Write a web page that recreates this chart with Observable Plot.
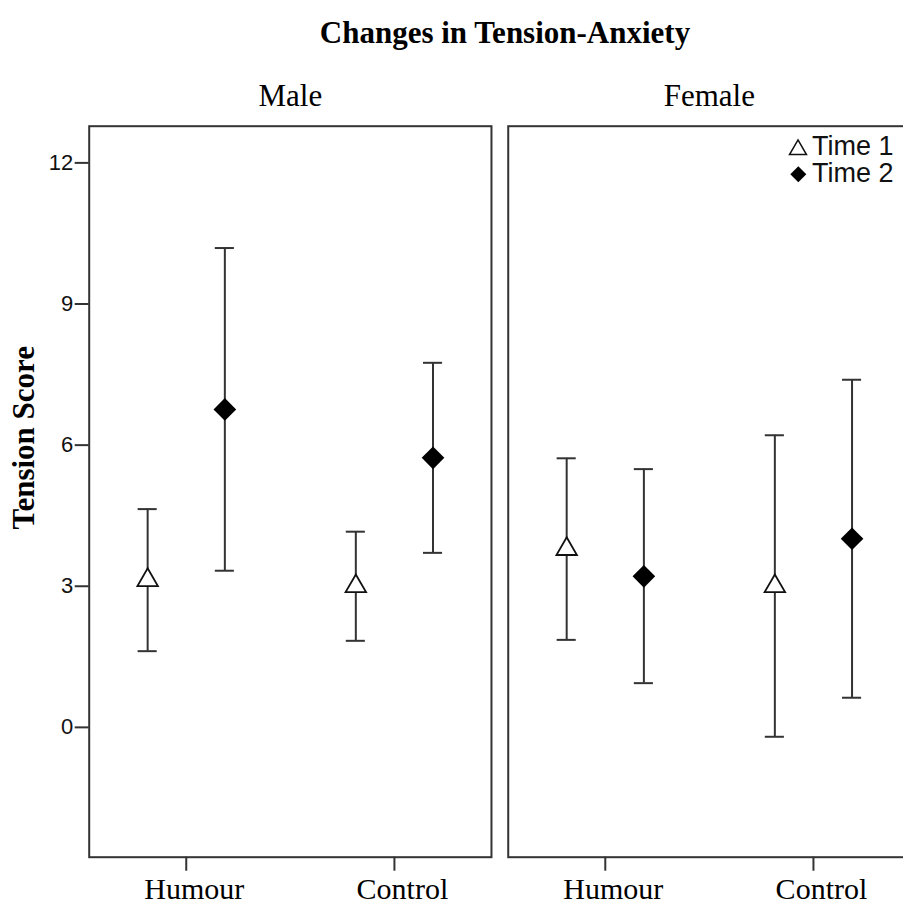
<!DOCTYPE html>
<html>
<head>
<meta charset="utf-8">
<script src="https://cdn.jsdelivr.net/npm/d3@7"></script>
<script src="https://cdn.jsdelivr.net/npm/@observablehq/plot@0.6"></script>
<style>
  html, body { margin: 0; padding: 0; background: #fff; overflow: hidden; width: 903px; height: 908px; }
  #wrap { position: relative; width: 912px; height: 908px; }
  #title { position: absolute; top: 17px; left: 505px; transform: translateX(-50%); white-space: nowrap;
           font-family: "Liberation Serif", "Times New Roman", serif; font-weight: bold; font-size: 31px; line-height: 31px; color: #000; }
  #chart { position: absolute; top: 60px; left: 0; }
</style>
</head>
<body>
<div id="wrap">
  <div id="title">Changes in Tension-Anxiety</div>
  <div id="chart"></div>
</div>
<script>
// ---- data ----
const panels = ["Male", "Female"];
const conditions = ["Humour", "Control"];
const times = ["Time 1", "Time 2"];
// order: panel -> condition -> time
const means = [3.13, 6.76, 3.00, 5.73, 3.79, 3.21, 3.00, 4.01];
const lower = [1.62, 3.33, 1.84, 3.71, 1.86, 0.94, -0.20, 0.63];
const upper = [4.64, 10.19, 4.16, 7.75, 5.72, 5.49, 6.21, 7.39];
const yTicks = [0, 3, 6, 9, 12];
const yLabel = "Tension Score";

// ---- table built from the arrays ----
const rows = [];
let k = 0;
for (const p of panels) for (const c of conditions) for (const t of times) {
  rows.push({panel: p, cond: c, time: t, mean: means[k], lo: lower[k], hi: upper[k]});
  k++;
}

const serif = "Liberation Serif, Times New Roman, serif";
const sans = "Liberation Sans, Arial, sans-serif";
const ink = "#333";
const offset = {"Time 1": -38.6, "Time 2": 38.6};
const capInset = 42.5; // band is 104px wide, caps ~19px
const style = {
  "Time 1": {symbol: "triangle", r: 7.6, fill: "white", stroke: "#111", strokeWidth: 1.8},
  "Time 2": {symbol: "diamond2", r: 10.2, fill: "#000", stroke: "none", strokeWidth: 0}
};

const marks = [];
for (const t of times) {
  const sub = rows.filter(d => d.time === t);
  const dx = offset[t];
  marks.push(
    Plot.ruleX(sub, {fx: "panel", x: "cond", y1: "lo", y2: "hi", dx, stroke: ink, strokeWidth: 2}),
    Plot.tickY(sub, {fx: "panel", x: "cond", y: "lo", dx, insetLeft: capInset, insetRight: capInset, stroke: ink, strokeWidth: 2}),
    Plot.tickY(sub, {fx: "panel", x: "cond", y: "hi", dx, insetLeft: capInset, insetRight: capInset, stroke: ink, strokeWidth: 2})
  );
}
for (const t of times) {
  const sub = rows.filter(d => d.time === t);
  const s = style[t];
  marks.push(Plot.dot(sub, {fx: "panel", x: "cond", y: "mean", dx: offset[t],
    symbol: () => s.symbol, r: s.r, fill: s.fill, stroke: s.stroke, strokeWidth: s.strokeWidth}));
}

// legend inside the Female panel (top-right)
const legendPanel = panels[1];
marks.push(
  Plot.dot([times[0]], {fx: [legendPanel], frameAnchor: "top-right", dx: -112.5, dy: 23.5,
    symbol: () => "triangle", r: 6.3, fill: "white", stroke: "#111", strokeWidth: 1.5}),
  Plot.dot([times[1]], {fx: [legendPanel], frameAnchor: "top-right", dx: -112.2, dy: 48,
    symbol: () => "diamond2", r: 7.2, fill: "#000"}),
  Plot.text([times[0]], {fx: [legendPanel], frameAnchor: "top-right", text: d => d, textAnchor: "end",
    lineAnchor: "middle", dx: -17, dy: 20, fontSize: 27, fontFamily: sans, fill: "#111"}),
  Plot.text([times[1]], {fx: [legendPanel], frameAnchor: "top-right", text: d => d, textAnchor: "end",
    lineAnchor: "middle", dx: -17, dy: 47.4, fontSize: 27, fontFamily: sans, fill: "#111"})
);

// y label on the Male panel
marks.push(
  Plot.text([yLabel], {fx: [panels[0]], frameAnchor: "left", text: d => d, rotate: -90,
    textAnchor: "middle", lineAnchor: "middle", dx: -64.7, dy: -54, fontSize: 31, fontWeight: "bold", fontFamily: serif, fill: "#000"})
);

marks.push(
  Plot.frame({stroke: ink, strokeWidth: 2}),
  Plot.axisY({ticks: yTicks, tickSize: 14, tickPadding: 2, fontSize: 22, fontFamily: sans, label: null, stroke: ink, strokeWidth: 2, color: "#111"}),
  Plot.axisX({anchor: "bottom", tickSize: 14, tickFormat: () => "", label: null, stroke: ink, strokeWidth: 2}),
  Plot.axisX({anchor: "bottom", tickSize: 0, tickPadding: 20, dx: 8, fontSize: 30, fontFamily: serif, label: null, color: "#000"}),
  Plot.axisFx({anchor: "top", tickSize: 0, tickPadding: 20.7, fontSize: 31, fontFamily: serif, label: null, color: "#000"})
);

const chart = Plot.plot({
  width: 910,
  height: 848,
  marginLeft: 88.7,
  marginRight: 0,
  marginTop: 65.7,
  marginBottom: 51.3,
  style: {background: "white", overflow: "visible"},
  fx: {domain: panels, paddingInner: 0.04, paddingOuter: 0, round: false, label: null},
  x: {type: "band", domain: conditions, paddingInner: 0.5, paddingOuter: 0.2162, round: false, label: null},
  y: {domain: [-2.76, 12.78], label: null},
  marks
});
document.getElementById("chart").appendChild(chart);
</script>
</body>
</html>
